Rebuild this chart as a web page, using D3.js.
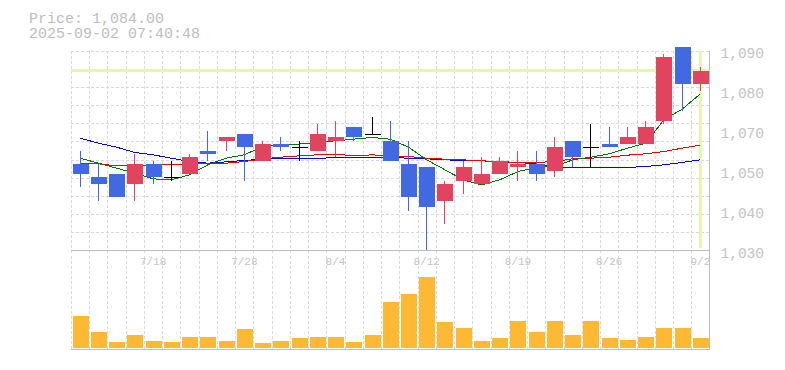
<!DOCTYPE html>
<html>
<head>
<meta charset="utf-8" />
<title>chart</title>
<script src="https://d3js.org/d3.v7.min.js"></script>
<style>
body{ margin:0; background:#fff; }
svg text{ font-family:"Liberation Mono","DejaVu Sans Mono",monospace; }
.grid line{ stroke:#d9d9d9; stroke-dasharray:3,2; shape-rendering:crispEdges; }
.frame{ stroke:#bdbdbd; stroke-width:1; shape-rendering:crispEdges; }
.ma{ fill:none; stroke-width:1; shape-rendering:crispEdges; }
</style>
</head>
<body>
<div id="chart"></div>
<script>
var width = 785, height = 370;

// trading days
var dates = ["7/14","7/15","7/16","7/17","7/18","7/22","7/23","7/24","7/25","7/28",
  "7/29","7/30","7/31","8/1","8/4","8/5","8/6","8/7","8/8","8/12",
  "8/13","8/14","8/15","8/18","8/19","8/20","8/21","8/22","8/25","8/26",
  "8/27","8/28","8/29","9/1","9/2"];
var opens  = [1056,1052,1053,1050,1056,1052,1053,1060,1063,1065,1057,1062,1061,1060,1063,1067,1065,1063,1056,1055,1045,1051,1050,1053,1055,1056,1054,1063,1061,1062,1062,1062,1069,1091,1080];
var highs  = [1060,1056,1053,1059,1057,1057,1059,1066,1064,1065,1063,1064,1063,1068,1069,1067,1070,1069,1063,1055,1051,1057,1058,1058,1060,1060,1064,1063,1068,1067,1067,1069,1089,1091,1085];
var lows   = [1049,1045,1046,1045,1050,1051,1053,1057,1060,1051,1057,1060,1057,1060,1058,1063,1065,1057,1042,1030,1038,1047,1050,1053,1051,1051,1052,1055,1055,1061,1062,1062,1068,1072,1078];
var closes = [1053,1050,1046,1056,1052,1052,1058,1059,1064,1061,1062,1061,1061,1065,1064,1064,1065,1057,1046,1043,1050,1055,1053,1057,1056,1053,1061,1058,1061,1061,1064,1067,1088,1080,1084];
var volumes = [33000,16500,6200,13400,7200,6200,11300,11300,7200,19600,5200,7200,10300,11300,11300,6200,13400,47400,55700,73200,
  26800,20600,7200,10300,27800,16500,27800,13400,27800,10300,8200,11300,20600,20600,10300];

// moving averages
var ma5  = [1057.7,1056.2,1054.7,1053.2,1051.5,1051.2,1052.7,1055.7,1057.7,1058.7,1061.2,1061.7,1061.9,1062.5,1062.9,1063.4,1063.9,1063.4,1061,1057.2,1054.2,1051.2,1049.7,1051.2,1053.7,1054.9,1055.2,1057.2,1058,1059,1060.7,1062.2,1069.2,1072.4,1077];
var ma25 = [1056.2,1056,1055.4,1055.4,1055.7,1055.9,1055.9,1056,1056.2,1056.7,1057.5,1058,1058.4,1058.7,1058.9,1058.4,1058.7,1058.4,1058.2,1057.7,1057.4,1057.2,1056.9,1056.7,1056.4,1056.4,1056.7,1057.5,1057.7,1058,1058.6,1059,1059.7,1060.7,1061.6];
var ma75 = [1063.7,1062.2,1061,1059.4,1058.7,1057.7,1056.7,1056.2,1056.6,1057,1057.4,1057.5,1057.6,1057.7,1057.8,1058,1058,1057.9,1057.7,1057.5,1057.2,1057,1056.9,1056.6,1056.4,1056,1055.2,1054.8,1055,1055,1054.9,1055.2,1055.7,1056.4,1057.2];

var lastPrice = 1084;
var stamp = "2025-09-02 07:40:48";

// axis labels
var priceTicks = [1030,1042,1054,1066,1078,1090];
var priceTickLabels = ["1,030","1,040","1,050","1,070","1,080","1,090"];
var dateTicks = ["7/18","7/28","8/4","8/12","8/19","8/26","9/2"];

var left = 71, right = 709.5;
var pTop = 50.5, pBottom = 250.5, vBottom = 349.5;

var svg = d3.select("#chart").append("svg")
  .attr("width", width)
  .attr("height", height);

// scales
var x = d3.scaleBand()
  .domain(dates)
  .range([left, right])
  .paddingInner(0.12)
  .paddingOuter(0.06);
var step = x.step();
var cx = function(d){ return x(d) + x.bandwidth()/2; };

var y = d3.scaleLinear().domain([1030, 1090]).range([pBottom, pTop]);
var yv = d3.scaleLinear().domain([0, 100000]).range([348, 251]);

// header text
svg.append("text").attr("x", 29).attr("y", 22.5)
  .attr("font-size", 15).attr("fill", "#bdbdbd")
  .text("Price: " + d3.format(",.2f")(lastPrice));
svg.append("text").attr("x", 29).attr("y", 38)
  .attr("font-size", 15).attr("fill", "#bdbdbd")
  .text(stamp);

// grid
var grid = svg.append("g").attr("class", "grid");
grid.selectAll("line.h")
  .data(d3.range(11))
  .enter().append("line")
  .attr("class", "h")
  .attr("x1", left).attr("x2", right)
  .attr("y1", function(k){ return Math.round(pTop + k*(pBottom-pTop)/11) + 0.5; })
  .attr("y2", function(k){ return Math.round(pTop + k*(pBottom-pTop)/11) + 0.5; });
grid.selectAll("line.v")
  .data(dates)
  .enter().append("line")
  .attr("class", "v")
  .attr("x1", function(d){ return Math.round(x(d) - step*0.06) + 0.5; })
  .attr("x2", function(d){ return Math.round(x(d) - step*0.06) + 0.5; })
  .attr("y1", pTop).attr("y2", vBottom);

// current price marker
svg.append("line")
  .attr("x1", left).attr("x2", right)
  .attr("y1", y(lastPrice)).attr("y2", y(lastPrice))
  .attr("stroke", "#e6f5b3").attr("stroke-width", 3);
svg.append("line")
  .attr("x1", cx(dates[dates.length-1])).attr("x2", cx(dates[dates.length-1]))
  .attr("y1", pTop).attr("y2", 248)
  .attr("stroke", "#e6f5b3").attr("stroke-width", 3);

// moving averages
var line = d3.line()
  .x(function(d, i){ return cx(dates[i]); })
  .y(function(d){ return y(d); });
[[ma75, "#0000ee"], [ma25, "#ee0000"], [ma5, "#007700"]].forEach(function(m){
  svg.append("path").attr("class", "ma")
    .attr("d", line(m[0]))
    .attr("stroke", m[1]);
});

// candles
var candles = dates.map(function(d, i){
  return {date:d, o:opens[i], h:highs[i], l:lows[i], c:closes[i], v:volumes[i]};
});
function col(d){
  if(d.c > d.o) return "#e0445e";
  if(d.c < d.o) return "#4169e1";
  return "#000";
}
var cg = svg.append("g").attr("shape-rendering", "crispEdges");
cg.selectAll("line.wick")
  .data(candles)
  .enter().append("line")
  .attr("class", "wick")
  .attr("x1", function(d){ return Math.floor(cx(d.date)) + 0.5; })
  .attr("x2", function(d){ return Math.floor(cx(d.date)) + 0.5; })
  .attr("y1", function(d){ return y(d.h); })
  .attr("y2", function(d){ return y(d.l); })
  .attr("stroke", col);
cg.selectAll("rect.body")
  .data(candles)
  .enter().append("rect")
  .attr("class", "body")
  .attr("x", function(d){ return Math.floor(cx(d.date)) - 7.5; })
  .attr("width", 16)
  .attr("y", function(d){ return y(Math.max(d.o, d.c)); })
  .attr("height", function(d){ return Math.max(1, Math.abs(y(d.o) - y(d.c))); })
  .attr("fill", col);

// volume
svg.append("g").attr("shape-rendering", "crispEdges")
  .selectAll("rect")
  .data(candles)
  .enter().append("rect")
  .attr("x", function(d){ return Math.floor(cx(d.date)) - 7.5; })
  .attr("width", 16)
  .attr("y", function(d){ return yv(d.v); })
  .attr("height", function(d){ return yv(0) - yv(d.v); })
  .attr("fill", "#fdb933");

// frame
svg.append("line").attr("class", "frame").attr("x1", left).attr("x2", right+0.5).attr("y1", pBottom).attr("y2", pBottom);
svg.append("line").attr("class", "frame").attr("x1", left).attr("x2", right+0.5).attr("y1", vBottom).attr("y2", vBottom);
svg.append("line").attr("class", "frame").attr("x1", right).attr("x2", right).attr("y1", pTop).attr("y2", vBottom);

// price axis
var yAxis = d3.axisRight(y)
  .tickValues(priceTicks)
  .tickFormat(function(d, i){ return priceTickLabels[i]; })
  .tickSize(0)
  .tickPadding(11);
var ya = svg.append("g").attr("transform", "translate(" + right + ",2)").call(yAxis);
ya.select(".domain").remove();
ya.selectAll("text").attr("font-size", 14.5).attr("fill", "#c4c4c4")
  .attr("font-family", "Liberation Mono, monospace");

// date axis
var xAxis = d3.axisBottom(x)
  .tickValues(dateTicks)
  .tickSize(0)
  .tickPadding(7);
var xa = svg.append("g").attr("transform", "translate(0," + pBottom + ")").call(xAxis);
xa.select(".domain").remove();
xa.selectAll("text").attr("font-size", 11).attr("fill", "#c4c4c4")
  .attr("font-family", "Liberation Mono, monospace");
</script>
</body>
</html>
